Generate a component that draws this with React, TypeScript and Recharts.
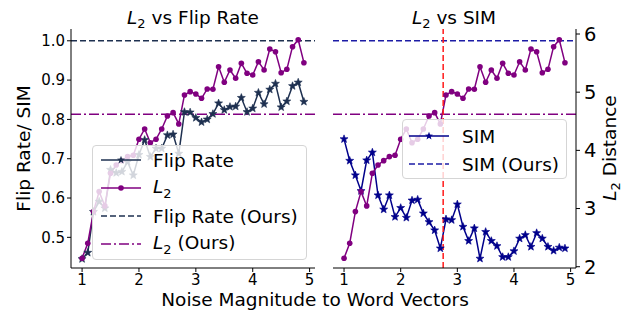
import React from 'react';
import { LineChart, Line, XAxis, YAxis, ReferenceLine } from 'recharts';

// noise magnitude added to the word vectors
const noiseLevels = [
  1.0, 1.1, 1.2, 1.3, 1.4, 1.5, 1.6, 1.7, 1.8, 1.9,
  2.0, 2.1, 2.2, 2.3, 2.4, 2.5, 2.6, 2.7, 2.8, 2.9,
  3.0, 3.1, 3.2, 3.3, 3.4, 3.5, 3.6, 3.7, 3.8, 3.9,
  4.0, 4.1, 4.2, 4.3, 4.4, 4.5, 4.6, 4.7, 4.8, 4.9,
];

const flipRate = [
  0.445, 0.461, 0.565, 0.591, 0.574, 0.672, 0.664, 0.667, 0.692, 0.658,
  0.71, 0.748, 0.705, 0.726, 0.726, 0.76, 0.762, 0.713, 0.819, 0.818,
  0.804, 0.793, 0.8, 0.814, 0.841, 0.824, 0.832, 0.833, 0.855, 0.819,
  0.828, 0.868, 0.839, 0.876, 0.891, 0.831, 0.846, 0.885, 0.894, 0.845,
];

const l2Dist = [
  2.146, 2.404, 2.947, 3.291, 3.045, 3.607, 3.749, 3.823, 3.892, 3.916,
  4.191, 4.368, 4.132, 4.191, 4.368, 4.591, 4.648, 4.454, 4.952, 5.009,
  4.969, 4.895, 5.055, 5.05, 5.438, 5.17, 5.381, 5.239, 5.496, 5.325,
  5.296, 5.524, 5.381, 5.742, 5.696, 5.335, 5.393, 5.782, 5.902, 5.507,
];

const simScore = [
  0.75, 0.695, 0.658, 0.618, 0.696, 0.716, 0.607, 0.571, 0.607, 0.552,
  0.575, 0.55, 0.594, 0.596, 0.561, 0.539, 0.518, 0.472, 0.546, 0.544,
  0.584, 0.527, 0.491, 0.523, 0.446, 0.514, 0.491, 0.478, 0.45, 0.45,
  0.465, 0.497, 0.506, 0.476, 0.511, 0.497, 0.476, 0.466, 0.474, 0.472,
];

const xTicks = [1, 2, 3, 4, 5];
const rateTicks = [0.5, 0.6, 0.7, 0.8, 0.9, 1.0];
const l2Ticks = [2, 3, 4, 5, 6];

const flipRateOurs = 1.0;
const simOurs = 1.0;
const l2Ours = 4.62;
const noiseCutoff = 2.75;

const rows = noiseLevels.map((x, i) => ({
  x,
  flip: flipRate[i],
  l2: l2Dist[i],
  sim: simScore[i],
}));

const FONT = '"DejaVu Sans", sans-serif';
const FLIP = '#1e3050';
const PURPLE = '#800080';
const NAVY = '#00008b';
const SIM_OURS = '#1c1ca6';

const xDomain = [0.805, 5.095];
const rateDomain = [0.422, 1.03];
const l2Domain = [1.978, 6.086];

const starPoints = (cx: number, cy: number, r: number) => {
  const pts: string[] = [];
  for (let k = 0; k < 10; k++) {
    const rad = k % 2 === 0 ? r : r * 0.42;
    const a = -Math.PI / 2 + (k * Math.PI) / 5;
    pts.push(`${cx + rad * Math.cos(a)},${cy + rad * Math.sin(a)}`);
  }
  return pts.join(' ');
};

const starDot = (color: string) => (props: any) => {
  const { cx, cy, index } = props;
  if (cx == null || cy == null) return <g key={index} />;
  return (
    <polygon key={index} points={starPoints(cx, cy, 4.2)} fill={color} stroke={color} strokeWidth={0.6} />
  );
};

const tickStyle = { fill: '#000', fontSize: 15, fontFamily: FONT };
const black = { stroke: '#000' };

const L2 = () => (
  <>
    <i>L</i>
    <sub style={{ fontSize: '0.7em' }}>2</sub>
  </>
);

const Handle = ({ color, dash, marker }: { color: string; dash?: string; marker?: 'star' | 'dot' }) => (
  <svg width={40} height={20} style={{ display: 'block' }}>
    <line x1={0} y1={10} x2={40} y2={10} stroke={color} strokeWidth={1.5} strokeDasharray={dash} />
    {marker === 'star' && <polygon points={starPoints(20, 10, 4.2)} fill={color} />}
    {marker === 'dot' && <circle cx={20} cy={10} r={2.8} fill={color} />}
  </svg>
);

const legendBox: React.CSSProperties = {
  position: 'absolute',
  background: 'rgba(255,255,255,0.8)',
  border: '1px solid #d5d5d5',
  borderRadius: 4,
  boxSizing: 'border-box',
  fontFamily: FONT,
  fontSize: 18.5,
  color: '#000',
};

const rowStyle: React.CSSProperties = {
  display: 'flex',
  alignItems: 'center',
  height: 28,
  whiteSpace: 'nowrap',
};

const App = () => {
  return (
    <div style={{ position: 'absolute', left: 0, top: 0, width: 631, height: 314, background: '#fff' }}>
      {/* left panel: flip rate and L2 */}
      <div style={{ position: 'absolute', left: 0, top: 0 }}>
        <LineChart width={330} height={314} data={rows} margin={{ top: 29, right: 15, bottom: 0, left: 0 }}>
          <XAxis dataKey="x" type="number" domain={xDomain} ticks={xTicks} allowDataOverflow height={46}
            tickSize={4} tick={tickStyle} tickLine={black} axisLine={black} />
          <XAxis xAxisId="top" orientation="top" dataKey="x" type="number" domain={xDomain} height={0}
            tick={false} tickLine={false} axisLine={black} />
          <YAxis yAxisId="rate" type="number" domain={rateDomain} ticks={rateTicks} allowDataOverflow width={71}
            tickSize={4} tick={tickStyle} tickLine={black} axisLine={black}
            tickFormatter={(v: number) => v.toFixed(1)} />
          <YAxis yAxisId="l2" orientation="right" type="number" domain={l2Domain} allowDataOverflow width={0}
            tick={false} tickLine={false} axisLine={black} />
          <ReferenceLine yAxisId="rate" y={flipRateOurs} stroke={FLIP} strokeWidth={1.5} strokeDasharray="6 3" />
          <ReferenceLine yAxisId="l2" y={l2Ours} stroke={PURPLE} strokeWidth={1.5} strokeDasharray="10 3 2 3" />
          <Line yAxisId="rate" dataKey="flip" stroke={FLIP} strokeWidth={1.5} dot={starDot(FLIP)}
            isAnimationActive={false} />
          <Line yAxisId="l2" dataKey="l2" stroke={PURPLE} strokeWidth={1.5}
            dot={{ r: 2.8, fill: PURPLE, stroke: PURPLE, strokeWidth: 0 }} isAnimationActive={false} />
        </LineChart>
      </div>

      {/* right panel: SIM and L2 */}
      <div style={{ position: 'absolute', left: 320, top: 0 }}>
        <LineChart width={311} height={314} data={rows} margin={{ top: 29, right: 0, bottom: 0, left: 13 }}>
          <XAxis dataKey="x" type="number" domain={xDomain} ticks={xTicks} allowDataOverflow height={46}
            tickSize={4} tick={tickStyle} tickLine={black} axisLine={black} />
          <XAxis xAxisId="top" orientation="top" dataKey="x" type="number" domain={xDomain} height={0}
            tick={false} tickLine={false} axisLine={black} />
          <YAxis yAxisId="rate" type="number" domain={rateDomain} ticks={rateTicks} allowDataOverflow width={0}
            tickSize={4} tick={false} tickLine={false} axisLine={black} />
          <YAxis yAxisId="l2" orientation="right" type="number" domain={l2Domain} ticks={l2Ticks} allowDataOverflow
            width={55} tickSize={4} tickMargin={4} tick={{ ...tickStyle, fontSize: 19.5 }} tickLine={black}
            axisLine={black} />
          <ReferenceLine yAxisId="rate" y={simOurs} stroke={SIM_OURS} strokeWidth={1.5} strokeDasharray="6 3" />
          <ReferenceLine yAxisId="l2" y={l2Ours} stroke={PURPLE} strokeWidth={1.5} strokeDasharray="10 3 2 3" />
          <Line yAxisId="rate" dataKey="sim" stroke={NAVY} strokeWidth={1.5} dot={starDot(NAVY)}
            isAnimationActive={false} />
          <Line yAxisId="l2" dataKey="l2" stroke={PURPLE} strokeWidth={1.5}
            dot={{ r: 2.8, fill: PURPLE, stroke: PURPLE, strokeWidth: 0 }} isAnimationActive={false} />
          <ReferenceLine yAxisId="rate" x={noiseCutoff} stroke="#ff1a1a" strokeWidth={1.5} strokeDasharray="6 3" />
        </LineChart>
      </div>

      {/* titles and axis labels */}
      <svg width={631} height={314} style={{ position: 'absolute', left: 0, top: 0, pointerEvents: 'none' }}>
        <g fontFamily={FONT} fontSize={18.5} fill="#000">
          <text x={193} y={24} textAnchor="middle">
            <tspan fontStyle="italic">L</tspan>
            <tspan fontSize={13} dy={4}>2</tspan>
            <tspan dy={-4}> vs Flip Rate</tspan>
          </text>
          <text x={454} y={24} textAnchor="middle">
            <tspan fontStyle="italic">L</tspan>
            <tspan fontSize={13} dy={4}>2</tspan>
            <tspan dy={-4}> vs SIM</tspan>
          </text>
          <text x={30} y={148.5} textAnchor="middle" transform="rotate(-90 30 148.5)">Flip Rate/ SIM</text>
          <text x={616} y={148} textAnchor="middle" transform="rotate(-90 616 148)">
            <tspan fontStyle="italic">L</tspan>
            <tspan fontSize={13} dy={4}>2</tspan>
            <tspan dy={-4}> Distance</tspan>
          </text>
          <text x={315} y={306} textAnchor="middle">Noise Magnitude to Word Vectors</text>
        </g>
      </svg>

      {/* legends */}
      <div style={{ ...legendBox, left: 92, top: 145, width: 215, height: 115, paddingLeft: 8 }}>
        <div style={rowStyle}>
          <Handle color={FLIP} marker="star" />
          <span style={{ marginLeft: 12 }}>Flip Rate</span>
        </div>
        <div style={rowStyle}>
          <Handle color={PURPLE} marker="dot" />
          <span style={{ marginLeft: 12 }}><L2 /></span>
        </div>
        <div style={rowStyle}>
          <Handle color={FLIP} dash="6 3" />
          <span style={{ marginLeft: 12 }}>Flip Rate (Ours)</span>
        </div>
        <div style={rowStyle}>
          <Handle color={PURPLE} dash="10 3 2 3" />
          <span style={{ marginLeft: 12 }}><L2 /> (Ours)</span>
        </div>
      </div>

      <div style={{ ...legendBox, left: 402, top: 119, width: 165, height: 60, paddingLeft: 6, paddingTop: 2 }}>
        <div style={rowStyle}>
          <Handle color={NAVY} marker="star" />
          <span style={{ marginLeft: 13 }}>SIM</span>
        </div>
        <div style={rowStyle}>
          <Handle color={SIM_OURS} dash="6 3" />
          <span style={{ marginLeft: 13 }}>SIM (Ours)</span>
        </div>
      </div>
    </div>
  );
};

export default App;
